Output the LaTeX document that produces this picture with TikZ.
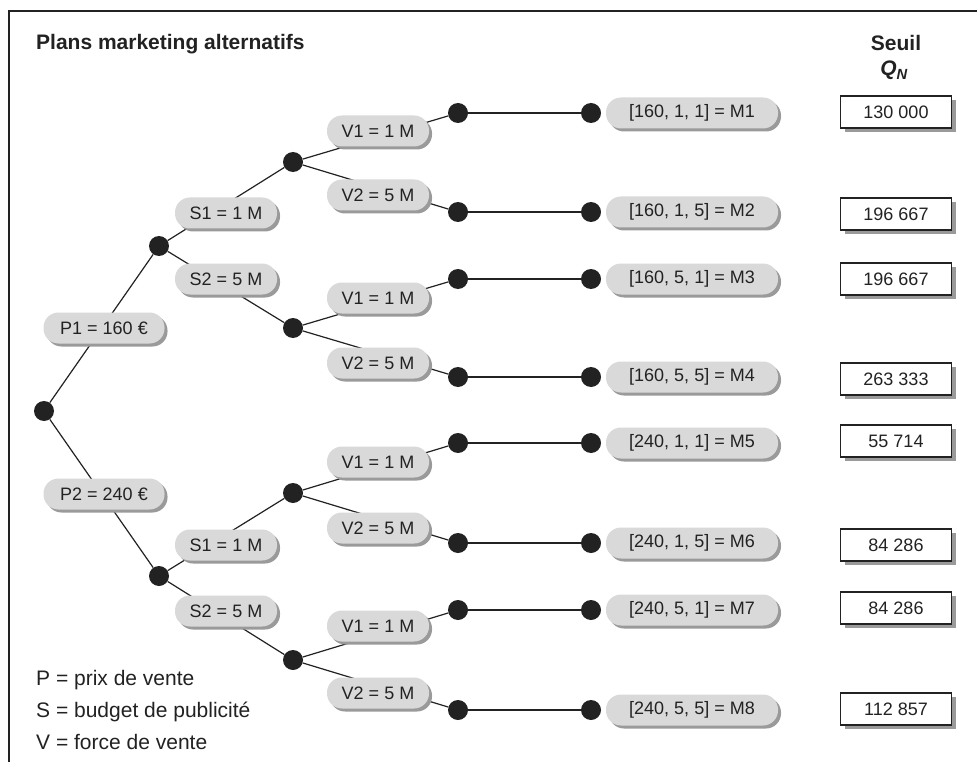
\documentclass[tikz,border=0pt]{standalone}
\usepackage{fontspec}
\setmainfont{Liberation Sans}
\usetikzlibrary{shadows}
\definecolor{ink}{HTML}{222222}
\definecolor{pillgray}{HTML}{D9D9D9}
\definecolor{shadowgray}{HTML}{9A9A9A}
\begin{document}
\begin{tikzpicture}[x=1pt,y=-1pt,
  dot/.style={circle,fill=ink,inner sep=0pt,minimum size=20pt},
  link/.style={draw=ink,line width=1.2pt},
  lab/.style={text=ink,font=\fontsize{18}{21}\selectfont},
  big/.style={text=ink,font=\fontsize{21}{25}\selectfont,inner sep=0pt},
  pill/.style={lab,rounded corners=15pt,fill=pillgray,minimum height=31pt,inner sep=0pt,
    drop shadow={shadow xshift=3pt,shadow yshift=-3pt,fill=shadowgray,opacity=1}},
  pillP/.style={pill,minimum width=121pt},
  pillS/.style={pill,minimum width=102pt},
  pillM/.style={pill,minimum width=172pt},
  qbox/.style={lab,draw=ink,line width=1.3pt,fill=white,minimum width=111pt,minimum height=32pt,inner sep=0pt,
    drop shadow={shadow xshift=4pt,shadow yshift=-4pt,fill=shadowgray,opacity=1}},
]
\useasboundingbox (0,0) rectangle (977,762);
\fill[white] (0,0) rectangle (977,762);
\draw[ink,line width=1.5pt] (9,762) -- (9,11) -- (977,11);

% header
\node[big,font=\bfseries\fontsize{21}{25}\selectfont,anchor=base west] (title) at (36,50) {Plans marketing alternatifs};
\node[big,font=\bfseries\fontsize{21}{25}\selectfont,anchor=base] (seuil) at (896,51) {Seuil};
\node[big,font=\bfseries\itshape\fontsize{21}{25}\selectfont,anchor=base] (qn) at (894,76) {Q\textsubscript{N}};

% legend
\node[big,anchor=base west] (legP) at (36,685) {P = prix de vente};
\node[big,anchor=base west] (legS) at (36,717) {S = budget de publicité};
\node[big,anchor=base west] (legV) at (36,749) {V = force de vente};

% dots
\node[dot] (root) at (44,411) {};
\node[dot] (p1) at (159,246) {};
\node[dot] (p2) at (159,576) {};
\node[dot] (s11) at (293,162) {};
\node[dot] (s12) at (293,328) {};
\node[dot] (s21) at (293,493) {};
\node[dot] (s22) at (293,660) {};
\foreach \i/\y in {1/113,2/212,3/279,4/377,5/443,6/543,7/610,8/710}{
  \node[dot] (l\i) at (458,\y) {};
  \node[dot] (m\i) at (591,\y) {};
}

% connectors
\draw[link] (root) -- (p1);
\draw[link] (root) -- (p2);
\draw[link] (p1) -- (s11);
\draw[link] (p1) -- (s12);
\draw[link] (p2) -- (s21);
\draw[link] (p2) -- (s22);
\draw[link] (s11) -- (l1);
\draw[link] (s11) -- (l2);
\draw[link] (s12) -- (l3);
\draw[link] (s12) -- (l4);
\draw[link] (s21) -- (l5);
\draw[link] (s21) -- (l6);
\draw[link] (s22) -- (l7);
\draw[link] (s22) -- (l8);
\foreach \i in {1,...,8}{ \draw[link] (l\i) -- (m\i); }

% P labels
\node[pillP] (P1) at (104,328) {P1 = 160 €};
\node[pillP] (P2) at (104,494) {P2 = 240 €};
% S labels
\node[pillS] (S11) at (226,213) {S1 = 1 M};
\node[pillS] (S12) at (226,279) {S2 = 5 M};
\node[pillS] (S21) at (226,545) {S1 = 1 M};
\node[pillS] (S22) at (226,611) {S2 = 5 M};
% V labels
\node[pillS] (V1) at (378,131) {V1 = 1 M};
\node[pillS] (V2) at (378,195) {V2 = 5 M};
\node[pillS] (V3) at (378,298) {V1 = 1 M};
\node[pillS] (V4) at (378,363) {V2 = 5 M};
\node[pillS] (V5) at (378,462) {V1 = 1 M};
\node[pillS] (V6) at (378,528) {V2 = 5 M};
\node[pillS] (V7) at (378,626) {V1 = 1 M};
\node[pillS] (V8) at (378,693) {V2 = 5 M};
% M labels
\node[pillM] (M1) at (692,113) {[160, 1, 1] = M1};
\node[pillM] (M2) at (692,212) {[160, 1, 5] = M2};
\node[pillM] (M3) at (692,279) {[160, 5, 1] = M3};
\node[pillM] (M4) at (692,377) {[160, 5, 5] = M4};
\node[pillM] (M5) at (692,443) {[240, 1, 1] = M5};
\node[pillM] (M6) at (692,543) {[240, 1, 5] = M6};
\node[pillM] (M7) at (692,610) {[240, 5, 1] = M7};
\node[pillM] (M8) at (692,710) {[240, 5, 5] = M8};
% thresholds
\node[qbox] (q1) at (896,112) {130 000};
\node[qbox] (q2) at (896,214) {196 667};
\node[qbox] (q3) at (896,279) {196 667};
\node[qbox] (q4) at (896,379) {263 333};
\node[qbox] (q5) at (896,441) {55 714};
\node[qbox] (q6) at (896,545) {84 286};
\node[qbox] (q7) at (896,608) {84 286};
\node[qbox] (q8) at (896,709) {112 857};
\end{tikzpicture}
\end{document}
